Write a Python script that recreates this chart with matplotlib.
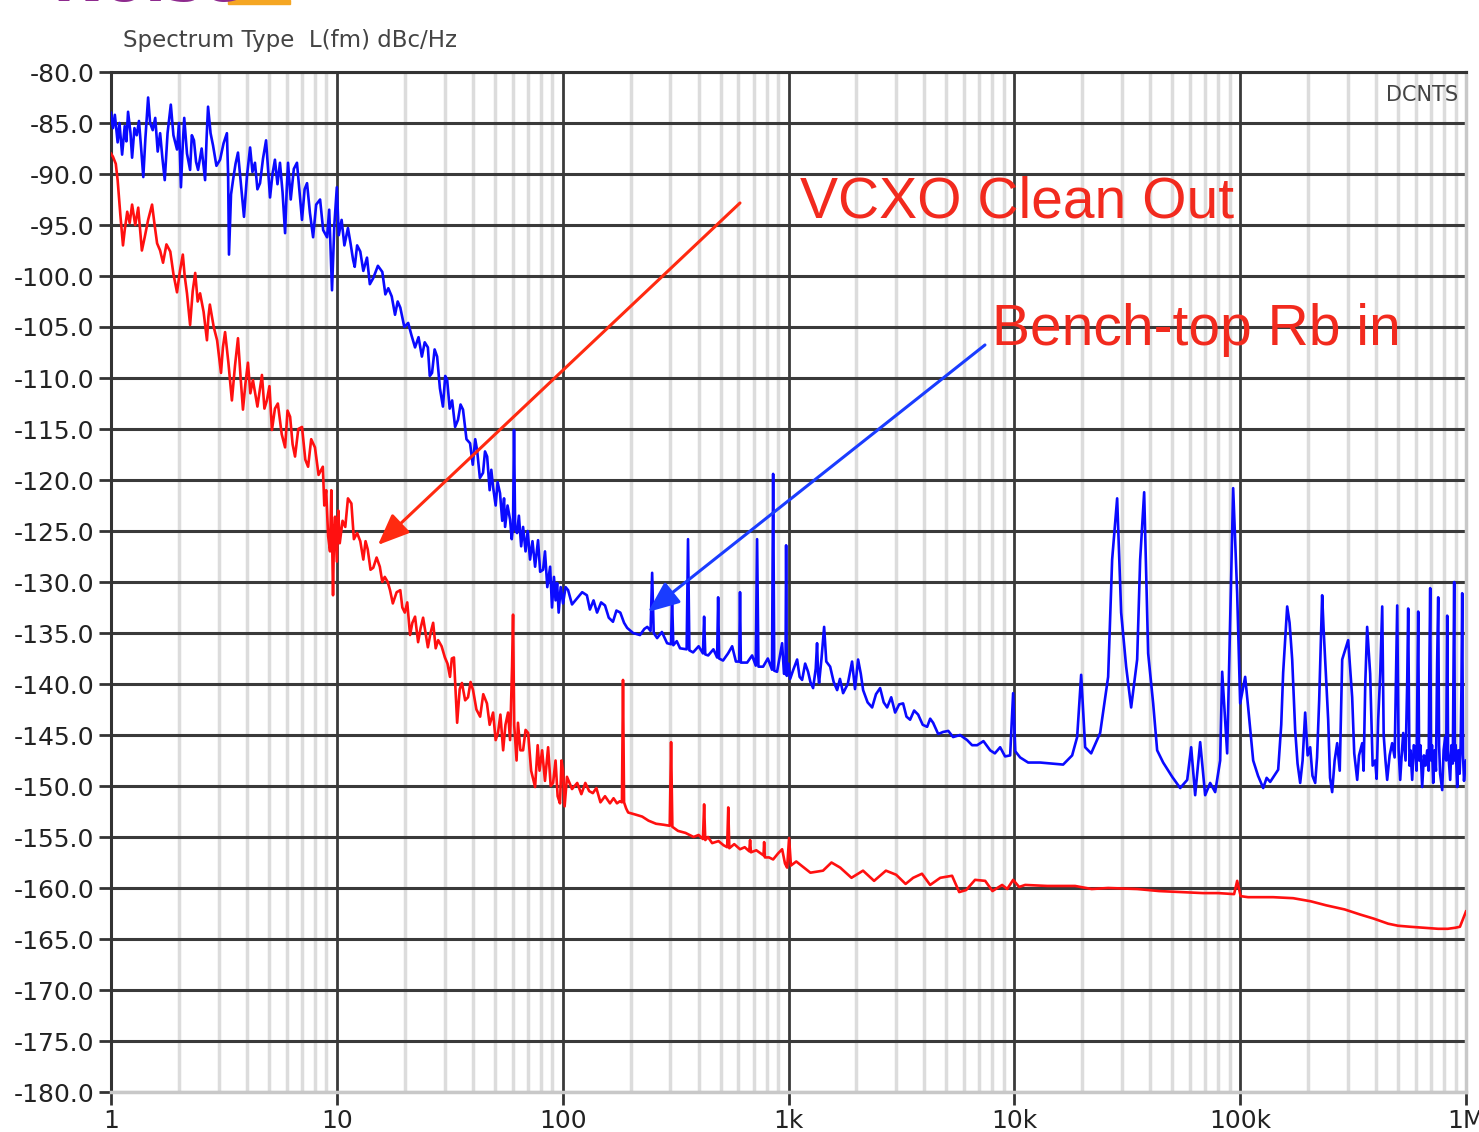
import matplotlib
matplotlib.use("Agg")
import matplotlib.pyplot as plt
from matplotlib.ticker import FixedLocator, LogLocator, NullFormatter
from matplotlib.patches import Rectangle

# ---- data: (offset Hz, dBc/Hz) ----
# Bench-top Rb reference in (blue trace)
blue_trace = [
    (1.00, -84.0), (1.02, -85.5), (1.04, -84.2), (1.07, -86.9), (1.09, -85.0),
    (1.12, -88.1), (1.15, -85.3), (1.17, -86.8), (1.19, -83.9), (1.22, -86.0),
    (1.24, -88.4), (1.27, -85.5), (1.30, -86.2), (1.33, -84.8), (1.36, -87.5),
    (1.39, -90.3), (1.42, -86.5), (1.46, -82.5), (1.49, -85.0), (1.53, -85.7),
    (1.57, -84.5), (1.61, -87.8), (1.65, -86.0), (1.69, -88.5), (1.73, -90.6),
    (1.78, -86.0), (1.84, -83.2), (1.89, -86.2), (1.96, -87.6), (2.00, -85.0),
    (2.04, -91.3), (2.08, -87.0), (2.11, -84.5), (2.17, -88.0), (2.24, -89.6),
    (2.28, -86.2), (2.33, -86.7), (2.38, -88.8), (2.43, -89.6), (2.52, -87.5),
    (2.61, -90.6), (2.65, -86.5), (2.69, -83.4), (2.76, -86.0), (2.83, -87.2),
    (2.93, -89.2), (3.04, -88.6), (3.15, -87.0), (3.26, -86.0), (3.30, -90.0),
    (3.33, -97.9), (3.40, -92.0), (3.47, -90.6), (3.56, -89.0), (3.65, -87.9),
    (3.76, -91.0), (3.88, -94.2), (4.00, -90.2), (4.13, -87.4), (4.23, -89.8),
    (4.34, -88.9), (4.45, -91.5), (4.57, -90.9), (4.71, -88.5), (4.86, -86.7),
    (4.96, -89.5), (5.06, -92.3), (5.19, -90.0), (5.32, -88.6), (5.46, -91.0),
    (5.60, -88.9), (5.75, -91.8), (5.90, -95.8), (6.00, -91.5), (6.08, -88.9),
    (6.25, -92.5), (6.45, -89.5), (6.66, -88.9), (6.85, -92.0), (7.01, -94.5),
    (7.20, -91.5), (7.38, -90.9), (7.60, -93.8), (7.85, -96.2), (8.10, -93.0),
    (8.43, -92.5), (8.70, -95.5), (9.05, -96.2), (9.25, -93.5), (9.52, -101.4),
    (9.75, -95.0), (10.0, -91.3), (10.2, -96.0), (10.5, -94.5), (10.8, -97.0),
    (11.2, -95.3), (11.5, -96.8), (11.8, -98.4), (12.0, -99.1), (12.3, -97.0),
    (12.7, -97.6), (13.1, -99.5), (13.6, -98.2), (14.0, -100.8), (14.5, -100.2),
    (15.2, -99.0), (15.9, -99.6), (16.4, -101.8), (16.9, -101.2), (17.5, -102.0),
    (18.1, -103.8), (18.6, -102.5), (19.1, -103.1), (19.9, -105.0), (20.7, -104.6),
    (21.4, -105.8), (22.2, -107.0), (23.0, -106.0), (23.8, -107.9), (24.5, -106.5),
    (25.3, -107.0), (25.8, -109.8), (26.4, -109.5), (27.1, -107.2), (27.8, -107.9),
    (28.6, -111.0), (29.5, -112.8), (30.2, -109.8), (30.8, -110.2), (31.6, -113.0),
    (32.4, -112.2), (33.4, -114.8), (34.4, -114.1), (35.3, -112.6), (36.2, -113.1),
    (37.5, -116.0), (38.9, -116.4), (40.0, -118.5), (41.0, -116.0), (41.8, -117.1),
    (43.0, -119.8), (44.4, -119.3), (45.3, -117.2), (46.3, -117.7), (47.5, -121.0),
    (48.3, -119.0), (49.2, -120.7), (50.5, -122.5), (51.5, -120.2), (52.8, -121.3),
    (54.0, -124.0), (55.0, -121.8), (55.6, -124.6), (57.0, -122.5), (58.5, -123.9),
    (59.5, -125.8), (60.3, -124.5), (60.9, -115.1), (61.6, -124.8), (62.8, -125.2),
    (64.0, -123.5), (65.5, -126.5), (66.8, -124.6), (68.5, -127.0), (70.0, -125.0),
    (71.7, -127.8), (73.5, -126.0), (75.5, -128.5), (77.8, -125.9), (79.5, -129.0),
    (81.9, -128.8), (83.5, -127.0), (85.5, -130.5), (88.0, -128.5), (89.7, -132.5),
    (91.5, -129.5), (93.0, -131.8), (94.5, -130.1), (96.0, -133.0), (98.0, -130.5),
    (100.4, -132.1), (103.0, -130.5), (105.7, -130.8), (110, -132.2), (115.8, -131.6),
    (122, -131.0), (128, -131.3), (132, -132.7), (137, -131.8), (142, -133.0),
    (148, -132.0), (154, -132.3), (160, -133.5), (167, -133.9), (173, -132.8),
    (180, -133.0), (187, -134.0), (193, -134.5), (205, -135.0), (220, -135.2),
    (230, -134.6), (237, -134.4), (245, -134.8), (249, -129.1), (253, -135.0),
    (262, -135.5), (275, -134.9), (290, -136.0), (302, -136.1), (305, -131.5),
    (309, -136.2), (320, -135.8), (331, -136.5), (354, -136.6), (359, -125.8),
    (364, -136.7), (378, -136.9), (400, -136.3), (418, -137.0), (423, -133.4),
    (428, -137.1), (441, -137.2), (465, -136.6), (483, -137.4), (488, -131.5),
    (493, -137.5), (513, -137.7), (540, -137.0), (563, -136.3), (585, -137.8),
    (605, -137.8), (610, -131.0), (615, -137.9), (656, -137.9), (690, -137.2),
    (716, -138.2), (726, -125.8), (736, -138.3), (772, -138.3), (810, -137.5),
    (845, -138.6), (855, -119.4), (865, -138.7), (890, -138.8), (937, -136.0),
    (955, -139.0), (970, -139.0), (976, -126.4), (983, -139.2), (1000, -138.0),
    (1017, -139.5), (1050, -138.6), (1092, -137.6), (1120, -139.3), (1149, -139.6),
    (1185, -138.0), (1221, -138.8), (1250, -139.8), (1285, -140.4), (1320, -138.5),
    (1338, -136.0), (1352, -139.0), (1366, -139.9), (1400, -137.5), (1438, -134.4),
    (1470, -137.8), (1529, -138.3), (1585, -139.8), (1642, -140.6), (1690, -139.5),
    (1745, -140.9), (1830, -140.0), (1912, -137.8), (1970, -140.5), (2033, -137.6),
    (2090, -139.0), (2140, -140.6), (2240, -141.8), (2346, -142.3), (2440, -141.0),
    (2545, -140.4), (2640, -141.8), (2734, -142.3), (2850, -141.3), (2966, -142.8),
    (3090, -142.0), (3217, -141.9), (3330, -143.2), (3455, -143.5), (3600, -142.6),
    (3750, -143.0), (3930, -144.0), (4111, -144.2), (4240, -143.4), (4369, -143.8),
    (4600, -144.9), (4838, -144.7), (5100, -144.6), (5357, -145.2), (5750, -145.0),
    (6180, -145.5), (6500, -146.0), (6844, -146.0), (7300, -145.6), (7815, -146.5),
    (8200, -146.8), (8652, -146.2), (9100, -147.1), (9582, -147.0), (9878, -140.9),
    (10100, -146.6), (10608, -147.2), (11509, -147.7), (13015, -147.7), (16448, -147.9),
    (18030, -147.0), (18974, -145.2), (19764, -139.1), (20586, -146.2), (21886, -146.8),
    (23988, -144.8), (26024, -139.3), (27107, -127.8), (28527, -121.8), (29717, -133.0),
    (31268, -138.3), (32906, -142.3), (34984, -137.6), (36072, -127.8), (37573, -121.2),
    (39135, -137.0), (41183, -141.9), (42897, -146.5), (45604, -147.7), (49996, -149.1),
    (54250, -150.2), (58275, -149.4), (60674, -146.2), (63201, -150.9), (66515, -145.7),
    (69984, -150.9), (73637, -149.7), (77500, -150.6), (81546, -147.5), (83237, -138.8),
    (87582, -146.8), (90303, -134.0), (93111, -120.8), (96987, -131.1), (100000, -141.9),
    (105222, -139.3), (108500, -142.3), (114190, -147.5), (120000, -149.0), (126500, -150.2),
    (131000, -149.2), (135800, -149.6), (147350, -148.4), (152000, -144.0), (155000, -138.9),
    (161500, -132.4), (165500, -134.0), (169960, -137.6), (175200, -144.5), (179500, -147.8),
    (184400, -149.7), (189000, -147.5), (194000, -142.8), (199000, -147.0), (204200, -146.2),
    (209000, -149.0), (214900, -149.7), (219000, -147.2), (223800, -141.6), (230700, -131.3),
    (234000, -134.5), (237900, -137.6), (245300, -143.5), (250000, -149.2), (255500, -150.6),
    (262000, -147.5), (268900, -145.8), (276000, -148.5), (283000, -137.6), (300800, -135.7),
    (306000, -138.0), (313300, -141.3), (320000, -146.8), (329800, -149.4), (336000, -147.0),
    (347100, -145.8), (352000, -148.5), (358000, -140.0), (365000, -134.4), (376400, -139.0),
    (386000, -148.0), (396200, -147.5), (402000, -149.3), (408500, -143.5), (417000, -139.0),
    (425600, -132.4), (432000, -145.0), (440000, -147.5), (447700, -149.4), (459000, -147.0),
    (471000, -145.8), (483000, -147.2), (489000, -140.0), (495900, -132.3), (503000, -146.5),
    (511200, -149.4), (519000, -147.0), (527100, -144.8), (540000, -147.5), (549000, -140.0),
    (554600, -132.6), (562000, -148.0), (568000, -146.5), (577700, -149.4), (587000, -146.0),
    (595700, -146.2), (604000, -148.5), (609000, -140.5), (614200, -132.9), (620000, -147.5),
    (628000, -146.0), (639700, -150.1), (651000, -147.0), (662000, -148.0), (673300, -146.5),
    (683000, -148.5), (688000, -139.0), (694200, -130.6), (700000, -147.5), (707000, -146.0),
    (715700, -149.7), (726000, -146.5), (736000, -148.5), (745000, -138.0), (753200, -131.5),
    (760000, -146.0), (768000, -148.8), (784600, -150.4), (796000, -146.5), (809000, -145.2),
    (817000, -147.5), (825600, -133.3), (833000, -146.5), (842000, -148.0), (851100, -149.4),
    (862000, -146.0), (874000, -147.8), (880000, -139.0), (886500, -130.0), (893000, -147.5),
    (900000, -146.0), (914100, -150.1), (925000, -146.5), (937000, -148.8), (947000, -146.0),
    (955000, -140.0), (962000, -131.1), (970000, -147.0), (980000, -149.5), (992000, -148.1),
    (1000000, -147.5),
]

# VCXO clean out (red trace)
red_trace = [
    (1.00, -88.0), (1.02, -88.3), (1.05, -89.0), (1.07, -90.6), (1.10, -94.0),
    (1.13, -97.0), (1.15, -95.5), (1.18, -93.7), (1.21, -94.8), (1.24, -93.0),
    (1.28, -95.0), (1.32, -93.3), (1.35, -95.8), (1.37, -97.5), (1.41, -96.2),
    (1.46, -94.5), (1.52, -93.0), (1.56, -95.0), (1.60, -96.8), (1.65, -97.5),
    (1.70, -98.7), (1.76, -96.9), (1.83, -97.6), (1.89, -99.8), (1.96, -101.6),
    (2.02, -99.5), (2.08, -97.9), (2.12, -100.0), (2.17, -101.7), (2.24, -104.8),
    (2.30, -101.5), (2.36, -99.7), (2.42, -102.5), (2.48, -101.7), (2.57, -103.5),
    (2.66, -106.3), (2.70, -104.0), (2.74, -102.8), (2.85, -105.0), (2.95, -106.3),
    (3.07, -109.5), (3.13, -107.0), (3.20, -105.5), (3.31, -108.5), (3.43, -112.2),
    (3.54, -108.8), (3.65, -106.1), (3.75, -110.0), (3.84, -113.1), (3.94, -110.5),
    (4.04, -108.5), (4.14, -111.5), (4.25, -110.2), (4.45, -112.8), (4.66, -109.7),
    (4.78, -113.0), (4.90, -112.2), (5.03, -110.8), (5.16, -115.1), (5.32, -113.0),
    (5.48, -112.5), (5.70, -115.5), (5.90, -116.8), (6.05, -113.2), (6.21, -113.8),
    (6.37, -116.5), (6.53, -117.7), (6.75, -115.0), (7.01, -114.8), (7.25, -118.0),
    (7.46, -118.7), (7.70, -116.0), (8.00, -116.8), (8.30, -119.5), (8.67, -118.7),
    (8.80, -122.5), (8.97, -121.0), (9.15, -125.5), (9.33, -127.0), (9.45, -121.0),
    (9.62, -131.3), (9.72, -125.0), (9.82, -123.6), (10.0, -128.0), (10.15, -123.0),
    (10.3, -126.2), (10.6, -124.0), (10.9, -124.6), (11.2, -121.8), (11.6, -122.3),
    (11.9, -125.8), (12.3, -125.2), (12.7, -126.0), (13.1, -127.8), (13.4, -126.0),
    (13.7, -126.8), (14.1, -128.8), (14.5, -128.6), (15.0, -127.6), (15.5, -128.5),
    (15.9, -130.0), (16.3, -129.5), (16.8, -130.0), (17.2, -130.8), (17.7, -132.1),
    (18.4, -131.0), (19.1, -130.8), (19.5, -132.5), (20.0, -133.0), (20.5, -132.0),
    (21.1, -135.2), (21.6, -134.0), (22.2, -133.4), (22.9, -135.9), (23.5, -134.5),
    (24.1, -133.5), (24.7, -135.0), (25.3, -136.4), (26.0, -135.0), (26.7, -134.0),
    (27.4, -136.5), (28.1, -135.7), (29.1, -136.3), (30.1, -137.4), (30.9, -138.0),
    (31.7, -139.3), (32.3, -137.5), (33.0, -137.4), (34.1, -143.8), (35.0, -140.5),
    (35.8, -139.9), (37.0, -141.6), (38.1, -141.3), (39.1, -139.8), (40.1, -140.6),
    (41.5, -142.5), (43.1, -143.2), (44.5, -141.0), (46.2, -141.9), (47.5, -144.0),
    (49.2, -142.8), (50.5, -145.5), (51.7, -144.8), (53.0, -143.0), (54.5, -146.5),
    (55.8, -144.0), (57.3, -142.8), (58.5, -145.5), (59.7, -138.3), (60.3, -133.2),
    (61.0, -144.0), (61.5, -145.2), (62.5, -147.5), (63.4, -143.8), (65.0, -146.5),
    (66.8, -146.5), (68.5, -144.5), (70.3, -144.8), (72.5, -148.5), (75.5, -150.1),
    (77.5, -146.0), (79.0, -148.5), (81.1, -146.5), (83.5, -149.5), (86.2, -146.2),
    (88.5, -150.0), (90.7, -149.7), (93.0, -147.5), (95.0, -151.0), (97.3, -151.7),
    (98.8, -147.5), (100.4, -148.5), (102.0, -152.0), (104.5, -149.1), (110, -150.3),
    (116, -149.7), (121, -150.8), (126, -149.7), (131, -150.5), (136, -150.7),
    (141, -150.2), (147, -151.6), (154, -151.0), (162, -151.7), (168, -151.2),
    (174, -151.7), (179, -151.5), (183, -151.6), (185, -139.6), (187, -151.6),
    (191, -152.2), (195, -152.6), (210, -152.8), (225, -153.0), (240, -153.4),
    (259, -153.7), (280, -153.8), (298, -153.9), (302, -145.7), (306, -154.0),
    (324, -154.4), (350, -154.6), (380, -155.0), (400, -154.8), (418, -155.2),
    (423, -151.8), (428, -155.3), (440, -155.0), (459, -155.6), (490, -155.4),
    (515, -155.8), (535, -156.0), (541, -152.1), (547, -156.1), (575, -155.7),
    (610, -156.2), (640, -156.0), (670, -156.4), (676, -155.3), (682, -156.5),
    (720, -156.3), (775, -156.8), (780, -155.5), (786, -157.0), (820, -157.0),
    (855, -157.2), (900, -156.6), (937, -156.2), (965, -157.6), (986, -158.0),
    (1006, -155.1), (1025, -157.8), (1082, -157.4), (1250, -158.5), (1422, -158.3),
    (1550, -157.5), (1694, -158.0), (1900, -159.0), (2138, -158.3), (2393, -159.3),
    (2700, -158.3), (2997, -158.7), (3300, -159.6), (3565, -159.0), (3900, -158.6),
    (4238, -159.7), (4700, -159.0), (5300, -158.8), (5700, -160.4), (6120, -160.2),
    (6700, -159.2), (7430, -159.3), (8000, -160.3), (8830, -159.7), (9300, -160.1),
    (9880, -159.2), (10500, -159.9), (11170, -159.7), (14000, -159.8), (18580, -159.8),
    (22000, -160.1), (26020, -160.0), (35000, -160.1), (43750, -160.3), (55000, -160.4),
    (68550, -160.5), (80000, -160.5), (94000, -160.6), (97000, -159.3), (100500, -160.8),
    (108400, -160.9), (140000, -160.9), (171800, -161.0), (205000, -161.3), (240500, -161.7),
    (290000, -162.1), (339800, -162.6), (390000, -163.0), (452300, -163.5), (500000, -163.7),
    (566000, -163.8), (650000, -163.9), (753200, -164.0), (830000, -164.0), (895700, -163.9),
    (940000, -163.8), (972000, -163.0), (1000000, -162.3),
]

x_ticks = [1, 10, 100, 1e3, 1e4, 1e5, 1e6]
x_labels = ["1", "10", "100", "1k", "10k", "100k", "1M"]
y_ticks = list(range(-180, -75, 5))
y_labels = [f"{v:.1f}" for v in y_ticks]

W, H = 1479, 1132
fig = plt.figure(figsize=(W / 100, H / 100), dpi=100)
ax = fig.add_axes([111 / W, 1 - 1092 / H, 1355 / W, 1020 / H])

ax.set_xscale("log")
ax.set_xlim(1, 1e6)
ax.set_ylim(-180, -80)

bf, bd = zip(*blue_trace)
rf, rd = zip(*red_trace)
ax.plot(bf, bd, color="#0a0aff", lw=1.9, zorder=3)
ax.plot(rf, rd, color="#ff1010", lw=1.9, zorder=3)

# grid and ticks
ax.xaxis.set_major_locator(FixedLocator(x_ticks))
ax.set_xticklabels(x_labels)
ax.xaxis.set_minor_locator(LogLocator(base=10, subs=range(2, 10), numticks=20))
ax.xaxis.set_minor_formatter(NullFormatter())
ax.set_yticks(y_ticks)
ax.set_yticklabels(y_labels)
ax.set_axisbelow(True)
ax.grid(which="minor", axis="x", color="#dcdcdc", lw=2.5)
ax.grid(which="major", axis="x", color="#3a3a3a", lw=2.0)
ax.grid(which="major", axis="y", color="#3a3a3a", lw=2.2)
ax.tick_params(axis="both", which="major", direction="out", length=9, width=2,
               color="#333333", labelsize=18, labelcolor="#222222", pad=3)
ax.tick_params(axis="x", which="minor", length=0)
for side in ("top", "left"):
    ax.spines[side].set_color("#333333")
    ax.spines[side].set_linewidth(2.2)
for side in ("bottom", "right"):
    ax.spines[side].set_color("#c8c8c8")
    ax.spines[side].set_linewidth(2.5)

# header texts
fig.text(123 / W, 1 - 40 / H, "Spectrum Type  L(fm) dBc/Hz", fontsize=16.5,
         color="#444444", va="center", ha="left")
ax.text(0.994, 0.977, "DCNTS", transform=ax.transAxes, fontsize=15,
        color="#444444", ha="right", va="center")

# logo strip, cut off by the top edge as in the screenshot
fig.text(52 / W, 1 - 1.5 / H, "Noise", fontsize=44, weight="bold",
         color="#8e2a8e", va="baseline", ha="left")
fig.patches.append(Rectangle((228 / W, 1 - 4 / H), 62 / W, 4 / H,
                             transform=fig.transFigure, color="#f5a623"))

# annotations
red_txt = "#f22a1e"
ax.text(0.5085, 0.857, "VCXO Clean Out", transform=ax.transAxes,
        family="Liberation Sans", fontsize=41, color=red_txt, va="baseline")
ax.text(0.6502, 0.7324, "Bench-top Rb in", transform=ax.transAxes,
        family="Liberation Sans", fontsize=41, color=red_txt, va="baseline")
ax.annotate("", xy=(0.1970, 0.5363), xytext=(0.4642, 0.8716),
            xycoords="axes fraction", textcoords="axes fraction",
            arrowprops=dict(arrowstyle="-|>,head_length=1.2,head_width=0.5",
                            color="#ff2a10", lw=2.2, mutation_scale=16,
                            shrinkA=0, shrinkB=0))
ax.annotate("", xy=(0.3963, 0.4706), xytext=(0.6450, 0.7324),
            xycoords="axes fraction", textcoords="axes fraction",
            arrowprops=dict(arrowstyle="-|>,head_length=1.2,head_width=0.5",
                            color="#1a3cff", lw=2.2, mutation_scale=16,
                            shrinkA=0, shrinkB=0))

fig.savefig("out.png", dpi=100)
